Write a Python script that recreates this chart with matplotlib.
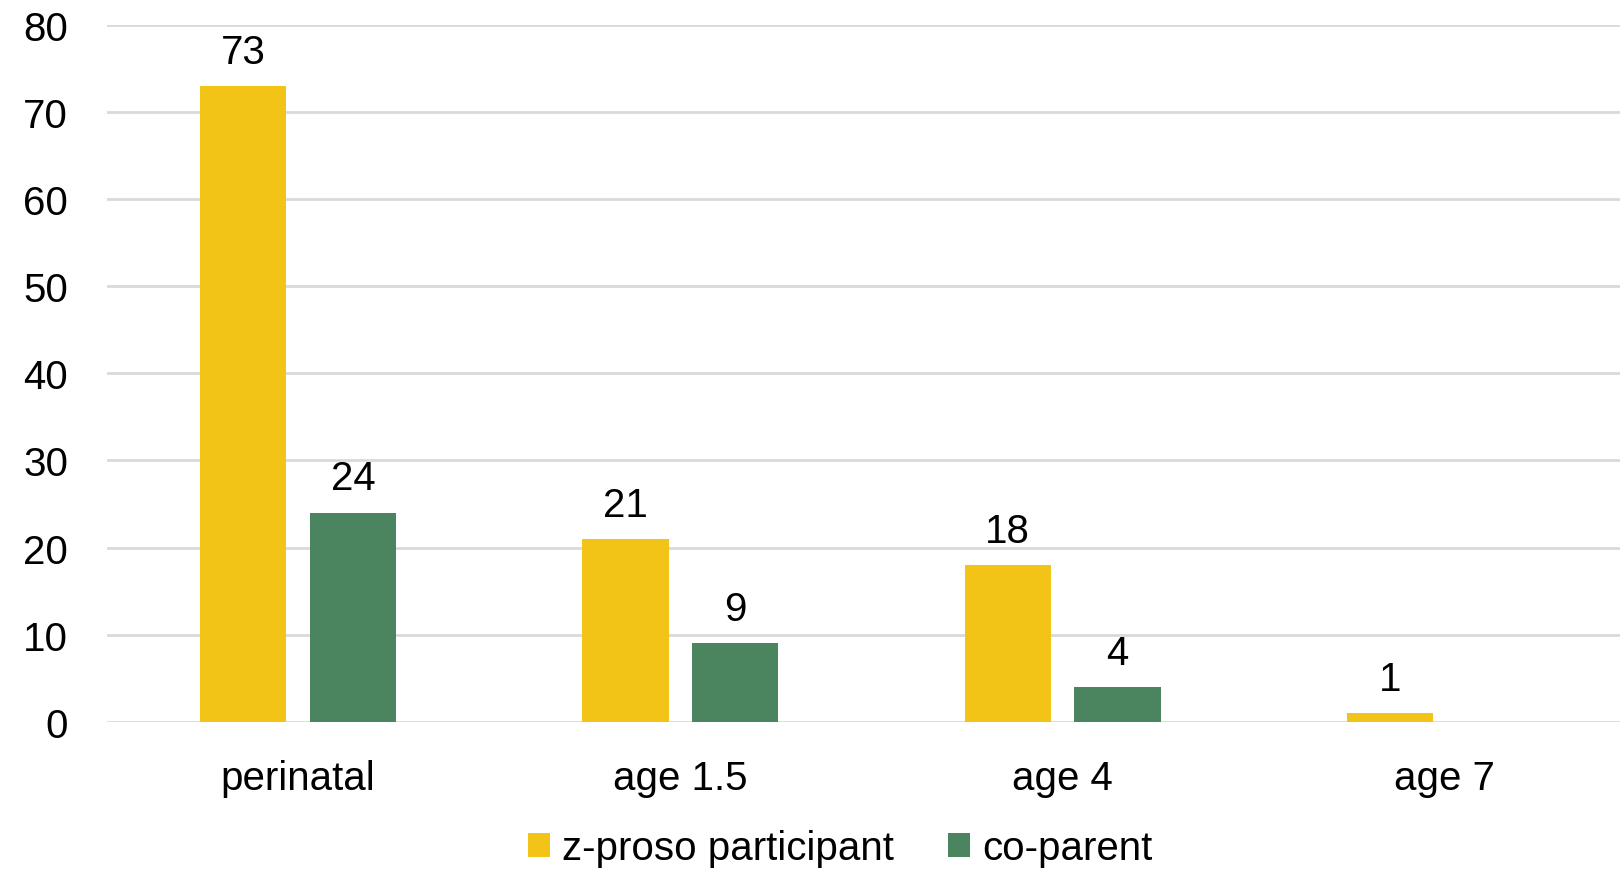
import matplotlib.pyplot as plt
import numpy as np

plt.rcParams['font.family'] = ['Liberation Sans', 'DejaVu Sans']

categories = ["perinatal", "age 1.5", "age 4", "age 7"]
participant = [73, 21, 18, 1]
coparent = [24, 9, 4, 0]
series_names = ["z-proso participant", "co-parent"]
yticks = [0, 10, 20, 30, 40, 50, 60, 70, 80]

yellow = "#F2C418"
green = "#4A8560"
fs = 29

fig = plt.figure(figsize=(16.2, 8.7), dpi=100)
ax = fig.add_axes([107 / 1620, 1 - 722.7 / 870, 1529 / 1620, (722.7 - 26) / 870])

x = np.arange(len(categories))
w = 0.226
b1 = ax.bar(x - 0.1435, participant, w, color=yellow, label=series_names[0], zorder=3)
b2 = ax.bar(x + 0.1435, coparent, w, color=green, label=series_names[1], zorder=3)

ax.bar_label(b1, labels=[str(v) for v in participant], padding=11, fontsize=fs)
ax.bar_label(b2, labels=[str(v) if v else "" for v in coparent], padding=11, fontsize=fs)

ax.set_xlim(-0.5, 3.5)
ax.set_ylim(0, 80)
ax.set_yticks(yticks)
ax.set_xticks(x)
ax.set_xticklabels(categories)
ax.tick_params(axis='y', length=0, pad=28, labelsize=fs)
ax.tick_params(axis='x', length=0, pad=27, labelsize=fs)
ax.grid(axis='y', color="#D9D9D9", linewidth=2, zorder=0)
for s in ax.spines.values():
    s.set_visible(False)

fig.legend(loc='center', bbox_to_anchor=(840 / 1620, 1 - 849 / 870), ncol=2, frameon=False,
           fontsize=fs, handlelength=0.55, handleheight=0.55, handletextpad=0.3,
           columnspacing=1.35)

fig.savefig("out.png", dpi=100)
